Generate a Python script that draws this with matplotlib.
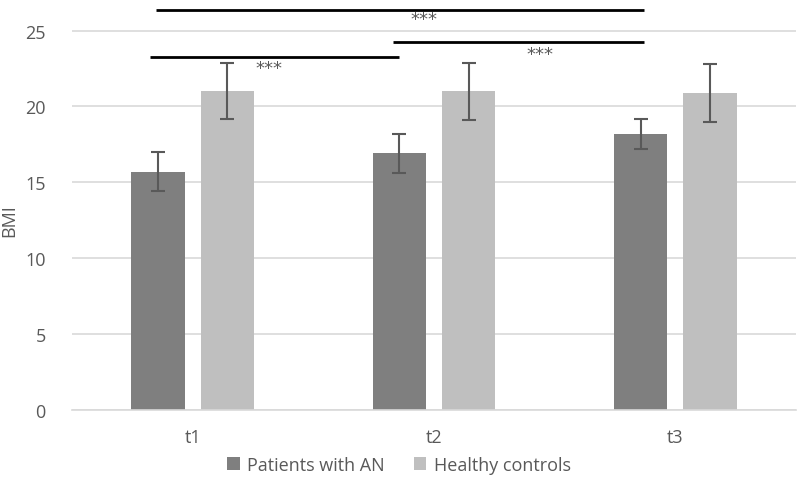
import numpy as np
import matplotlib
matplotlib.use('Agg')
import matplotlib.pyplot as plt

plt.rcParams['font.family'] = ['Open Sans', 'DejaVu Sans']

times = ['t1', 't2', 't3']
groups = ['Patients with AN', 'Healthy controls']
an_mean = [15.7, 16.9, 18.2]
an_err = [1.27, 1.29, 0.98]
hc_mean = [21.0, 21.0, 20.9]
hc_err = [1.85, 1.9, 1.9]
# significance brackets: (from time index, to time index, height)
sig_pairs = [(0, 2, 26.37), (1, 2, 24.27), (0, 1, 23.24)]

text_col = '#595959'
grid_col = '#d9d9d9'

fig = plt.figure(figsize=(7.98, 4.85), dpi=100)
ax = fig.add_axes([0.0902, 0.1532, 0.9073, 0.8468])

x = np.arange(len(times))
w = 0.2215
off = 0.144
ax.bar(x - off, an_mean, w, color='#7f7f7f', label=groups[0], zorder=2)
ax.bar(x + off, hc_mean, w, color='#bfbfbf', label=groups[1], zorder=2)
ax.errorbar(x - off, an_mean, yerr=an_err, fmt='none', ecolor='#595959',
            elinewidth=1.5, capsize=5, capthick=1.5, zorder=3)
ax.errorbar(x + off, hc_mean, yerr=hc_err, fmt='none', ecolor='#595959',
            elinewidth=1.5, capsize=5, capthick=1.5, zorder=3)

ax.set_xlim(-0.5, 2.5)
ax.set_ylim(0, 27.09)
ax.set_yticks(range(0, 26, 5))
ax.set_xticks(x)
ax.set_xticklabels(times)
ax.yaxis.grid(True, color=grid_col, linewidth=1.2, zorder=0)
ax.set_axisbelow(True)
for s in ['top', 'right', 'left']:
    ax.spines[s].set_visible(False)
ax.spines['bottom'].set_color(grid_col)
ax.spines['bottom'].set_linewidth(1.2)
ax.tick_params(axis='both', length=0, colors=text_col, labelsize=13)
ax.tick_params(axis='y', pad=19)
ax.tick_params(axis='x', pad=13)
fig.text(9.5 / 798, 1 - 221 / 485, 'BMI', rotation=90, ha='center',
         va='center', color=text_col, fontsize=13)

# significance lines
starts = {0: -0.153, 1: 0.829}
ends = {1: 0.856, 2: 1.872}
star_pos = [(0.957, 25.8), (1.44, 23.45), (0.315, 22.55)]
for (a, b, h), (sx, sy) in zip(sig_pairs, star_pos):
    x0 = starts[a]
    x1 = ends[b]
    if a == 0 and b == 1:
        x0 = -0.177
    ax.plot([x0, x1], [h, h], color='black', linewidth=2, clip_on=False,
            solid_capstyle='butt', zorder=4)
    ax.text(sx, sy, '***', ha='center', va='center', fontsize=13,
            color=text_col, family=['DejaVu Sans'])

fig.legend(loc='center', bbox_to_anchor=(0.5, 0.040), ncol=2, frameon=False,
           fontsize=13, handlelength=0.7, handleheight=0.7, handletextpad=0.4,
           columnspacing=1.6, labelcolor=text_col)

fig.savefig('out.png', dpi=100)
